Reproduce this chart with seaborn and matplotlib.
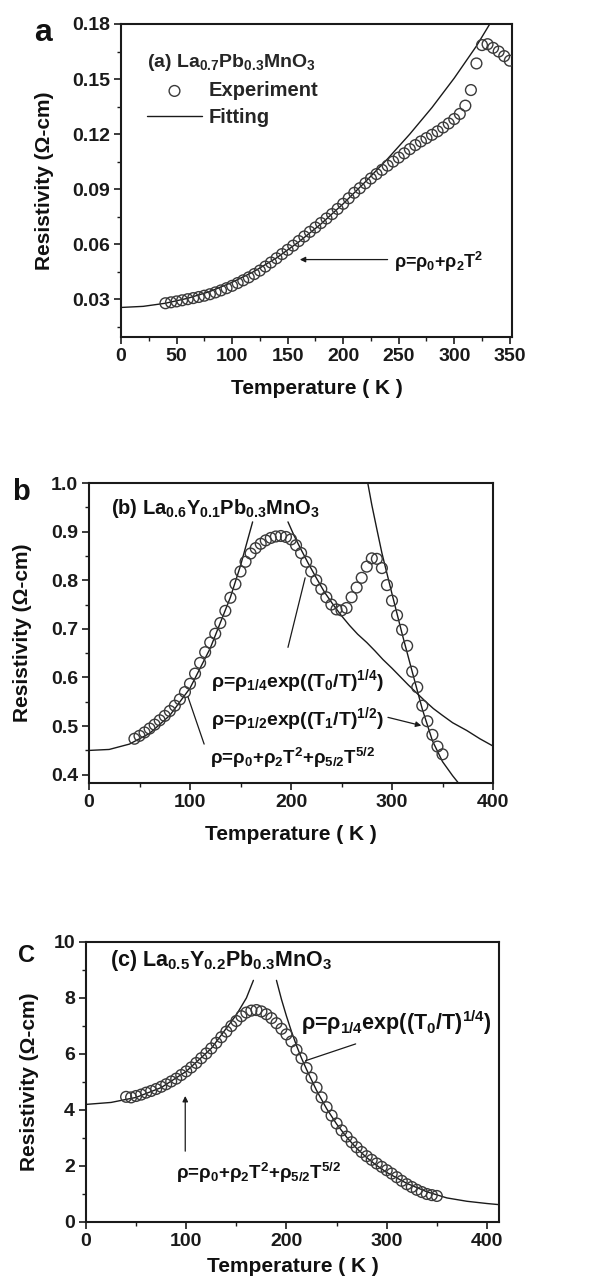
import matplotlib
matplotlib.use("Agg")
import matplotlib.pyplot as plt
import seaborn as sns

# ==============================================================================
# Resistivity vs temperature, three samples (a, b, c)
# ==============================================================================

# --- panel a: La0.7Pb0.3MnO3 ---
temp_a = [40, 45, 50, 55, 60, 65, 70, 75, 80, 85, 90, 95, 100, 105, 110, 115,
          120, 125, 130, 135, 140, 145, 150, 155, 160, 165, 170, 175, 180, 185,
          190, 195, 200, 205, 210, 215, 220, 225, 230, 235, 240, 245, 250, 255,
          260, 265, 270, 275, 280, 285, 290, 295, 300, 305, 310, 315, 320, 325,
          330, 335, 340, 345, 350]
rho_a = [0.0278, 0.0283, 0.0288, 0.0294, 0.0300, 0.0306, 0.0312, 0.0319,
         0.0327, 0.0337, 0.0348, 0.0360, 0.0373, 0.0388, 0.0403, 0.0419,
         0.0437, 0.0456, 0.0478, 0.0500, 0.0523, 0.0546, 0.0569, 0.0592,
         0.0617, 0.0642, 0.0667, 0.0691, 0.0715, 0.0740, 0.0764, 0.0792,
         0.0820, 0.0850, 0.0880, 0.0905, 0.0932, 0.0958, 0.0982, 0.1005,
         0.1028, 0.1050, 0.1072, 0.1095, 0.1118, 0.1140, 0.1160, 0.1178,
         0.1196, 0.1215, 0.1236, 0.1258, 0.1282, 0.1310, 0.1355, 0.1440,
         0.1585, 0.1685, 0.1690, 0.1670, 0.1650, 0.1625, 0.1600]
fit_temp_a = [0, 20, 40, 60, 80, 100, 120, 140, 160, 180, 200, 220, 240, 260,
              280, 300, 320, 332]
fit_rho_a = [0.0255, 0.0261, 0.0278, 0.0305, 0.0342, 0.0392, 0.0452, 0.0525,
             0.0612, 0.0710, 0.0820, 0.0940, 0.1065, 0.1200, 0.1345, 0.1505,
             0.1680, 0.1800]

# --- panel b: La0.6Y0.1Pb0.3MnO3 ---
temp_b = [45, 50, 55, 60, 65, 70, 75, 80, 85, 90, 95, 100, 105, 110, 115, 120,
          125, 130, 135, 140, 145, 150, 155, 160, 165, 170, 175, 180, 185, 190,
          195, 200, 205, 210, 215, 220, 225, 230, 235, 240, 245, 250, 255, 260,
          265, 270, 275, 280, 285, 290, 295, 300, 305, 310, 315, 320, 325, 330,
          335, 340, 345, 350]
rho_b = [0.474, 0.480, 0.487, 0.495, 0.503, 0.512, 0.521, 0.531, 0.542, 0.555,
         0.570, 0.587, 0.608, 0.630, 0.652, 0.672, 0.690, 0.712, 0.737, 0.764,
         0.792, 0.818, 0.838, 0.855, 0.866, 0.875, 0.882, 0.887, 0.890, 0.891,
         0.889, 0.884, 0.872, 0.856, 0.838, 0.818, 0.800, 0.782, 0.765, 0.750,
         0.740, 0.738, 0.743, 0.765, 0.785, 0.805, 0.828, 0.845, 0.844, 0.825,
         0.790, 0.758, 0.728, 0.698, 0.665, 0.612, 0.580, 0.542, 0.510, 0.482,
         0.458, 0.442]
fit_low_temp_b = [0, 20, 40, 60, 80, 100, 120, 140, 150, 162]
fit_low_rho_b = [0.450, 0.452, 0.463, 0.485, 0.522, 0.578, 0.660, 0.765,
                 0.830, 0.920]
fit_q_temp_b = [197, 203, 209, 217, 225, 233, 242, 250, 258, 266, 275, 283,
                291, 300, 308, 316, 325, 333, 341, 350, 360, 374, 387, 400]
fit_q_rho_b = [0.920, 0.892, 0.867, 0.835, 0.805, 0.776, 0.749, 0.727, 0.707,
               0.689, 0.672, 0.655, 0.637, 0.619, 0.602, 0.585, 0.567, 0.551,
               0.536, 0.522, 0.507, 0.491, 0.474, 0.459]
fit_h_temp_b = [276, 280, 285, 290, 300, 310, 320, 330, 340, 350, 360, 370]
fit_h_rho_b = [1.000, 0.955, 0.905, 0.856, 0.772, 0.690, 0.612, 0.535, 0.470,
               0.427, 0.398, 0.372]

# --- panel c: La0.5Y0.2Pb0.3MnO3 ---
temp_c = [40, 45, 50, 55, 60, 65, 70, 75, 80, 85, 90, 95, 100, 105, 110, 115,
          120, 125, 130, 135, 140, 145, 150, 155, 160, 165, 170, 175, 180, 185,
          190, 195, 200, 205, 210, 215, 220, 225, 230, 235, 240, 245, 250, 255,
          260, 265, 270, 275, 280, 285, 290, 295, 300, 305, 310, 315, 320, 325,
          330, 335, 340, 345, 350]
rho_c = [4.47, 4.45, 4.50, 4.55, 4.62, 4.68, 4.75, 4.83, 4.92, 5.02, 5.12,
         5.25, 5.38, 5.52, 5.68, 5.85, 6.02, 6.20, 6.40, 6.60, 6.80, 7.00,
         7.18, 7.35, 7.48, 7.55, 7.57, 7.52, 7.42, 7.28, 7.10, 6.90, 6.70,
         6.45, 6.15, 5.85, 5.50, 5.15, 4.80, 4.45, 4.10, 3.80, 3.52, 3.27,
         3.05, 2.85, 2.67, 2.50, 2.35, 2.22, 2.09, 1.97, 1.85, 1.73, 1.60,
         1.47, 1.35, 1.25, 1.15, 1.07, 1.00, 0.96, 0.93]
fit_low_temp_c = [0, 25, 50, 75, 100, 125, 150, 160, 167]
fit_low_rho_c = [4.20, 4.27, 4.45, 4.80, 5.38, 6.20, 7.40, 8.00, 8.63]
fit_q_temp_c = [190, 195, 200, 205, 210, 215, 220, 230, 240, 250, 260, 270,
                280, 290, 300, 320, 340, 360, 380, 400, 412]
fit_q_rho_c = [8.63, 7.95, 7.35, 6.80, 6.30, 5.85, 5.45, 4.70, 4.05, 3.50,
               3.03, 2.63, 2.30, 2.02, 1.77, 1.38, 1.08, 0.86, 0.74, 0.66, 0.62]

# ==============================================================================
# Style
# ==============================================================================
sns.set_style("ticks")
plt.rcParams['font.family'] = ['Liberation Sans', 'DejaVu Sans']
plt.rcParams['font.weight'] = 'bold'
plt.rcParams['axes.labelweight'] = 'bold'
plt.rcParams['mathtext.fontset'] = 'custom'
plt.rcParams['mathtext.rm'] = 'Liberation Sans:bold'
plt.rcParams['mathtext.it'] = 'Liberation Sans:bold'
plt.rcParams['mathtext.bf'] = 'Liberation Sans:bold'
plt.rcParams['mathtext.default'] = 'rm'

INK = '#1a1a1a'
MARK = '#3a3a3a'
TXT = '#111111'


def style_axes(ax, xlim, ylim, xmaj, xmin, ymaj, ymin, yfmt):
    ax.set_xlim(*xlim)
    ax.set_ylim(*ylim)
    ax.xaxis.set_major_locator(plt.MultipleLocator(xmaj))
    ax.xaxis.set_minor_locator(plt.MultipleLocator(xmin))
    ax.yaxis.set_major_locator(plt.MultipleLocator(ymaj))
    ax.yaxis.set_minor_locator(plt.MultipleLocator(ymin))
    ax.yaxis.set_major_formatter(plt.FormatStrFormatter(yfmt))
    ax.tick_params(which='major', direction='out', length=5, width=1.2,
                   labelsize=14, colors=INK, pad=3)
    ax.tick_params(which='minor', direction='out', length=3, width=1.0,
                   colors=INK)
    for s in ax.spines.values():
        s.set_visible(True)
        s.set_linewidth(1.5)
        s.set_color(INK)
    ax.set_xlabel('Temperature ( K )', fontsize=15, color=TXT)
    ax.set_ylabel('Resistivity (Ω-cm)', fontsize=15, color=TXT)


def draw_points(ax, t, r, label=None):
    sns.scatterplot(x=t, y=r, ax=ax, marker='o', s=60, facecolor='none',
                    edgecolor=MARK, linewidth=1.0, label=label, zorder=3)


def draw_fit(ax, t, r, label=None):
    sns.lineplot(x=t, y=r, ax=ax, color=INK, linewidth=1.0, label=label,
                 zorder=2)


def pointer(ax, tip, tail, head=True):
    style = '-|>' if head else '-'
    ax.annotate('', xy=tip, xytext=tail,
                arrowprops=dict(arrowstyle=style, color=INK, lw=0.9,
                                mutation_scale=8, shrinkA=0, shrinkB=0))


fig = plt.figure(figsize=(5.89, 12.78), dpi=100)

# ------------------------------------------------------------------ panel a
ax_a = fig.add_axes([121 / 589, 1 - 337 / 1278, 391 / 589, 313 / 1278])
draw_points(ax_a, temp_a, rho_a, label='Experiment')
draw_fit(ax_a, fit_temp_a, fit_rho_a, label='Fitting')
style_axes(ax_a, (0, 352), (0.0094, 0.18), 50, 25, 0.03, 0.015, '%.2f')
ax_a.legend(loc='upper left', bbox_to_anchor=(0.066, 0.91), frameon=False,
            title='(a) La$_{0.7}$Pb$_{0.3}$MnO$_3$', alignment='left',
            fontsize=14.5, title_fontsize=14, handlelength=2.75,
            handletextpad=0.3, labelspacing=0.4, borderpad=0,
            borderaxespad=0)
pointer(ax_a, (161, 0.0516), (240, 0.0516))
ax_a.text(246, 0.0504, 'ρ=ρ$_0$+ρ$_2$T$^2$', fontsize=13, color=TXT,
          va='center', ha='left')
ax_a.yaxis.set_label_coords(-0.171, 0.5)
ax_a.xaxis.set_label_coords(0.5, -0.134)
fig.text(0.058, 0.974, 'a', fontsize=23, fontweight='bold', color=TXT,
         va='center', ha='left')

# ------------------------------------------------------------------ panel b
ax_b = fig.add_axes([89 / 589, 1 - 783 / 1278, 404 / 589, 300 / 1278])
draw_points(ax_b, temp_b, rho_b)
draw_fit(ax_b, fit_low_temp_b, fit_low_rho_b)
draw_fit(ax_b, fit_q_temp_b, fit_q_rho_b)
draw_fit(ax_b, fit_h_temp_b, fit_h_rho_b)
style_axes(ax_b, (0, 400), (0.383, 1.0), 100, 50, 0.1, 0.05, '%.1f')
ax_b.text(22, 0.948, '(b) La$_{0.6}$Y$_{0.1}$Pb$_{0.3}$MnO$_3$', fontsize=14.5,
          color=TXT, va='center', ha='left')
ax_b.text(121, 0.592, 'ρ=ρ$_{1/4}$exp((T$_0$/T)$^{1/4}$)', fontsize=14,
          color=TXT, va='center', ha='left')
ax_b.text(121, 0.515, 'ρ=ρ$_{1/2}$exp((T$_1$/T)$^{1/2}$)', fontsize=14,
          color=TXT, va='center', ha='left')
ax_b.text(120, 0.435, 'ρ=ρ$_0$+ρ$_2$T$^2$+ρ$_{5/2}$T$^{5/2}$', fontsize=13.5,
          color=TXT, va='center', ha='left')
pointer(ax_b, (214, 0.805), (197, 0.662), head=False)
pointer(ax_b, (329, 0.501), (296, 0.518))
pointer(ax_b, (98, 0.560), (114, 0.463), head=False)
ax_b.yaxis.set_label_coords(-0.141, 0.5)
ax_b.xaxis.set_label_coords(0.5, -0.14)
fig.text(0.02, 0.615, 'b', fontsize=21, fontweight='bold', color=TXT,
         va='center', ha='left')

# ------------------------------------------------------------------ panel c
ax_c = fig.add_axes([86 / 589, 1 - 1222 / 1278, 413 / 589, 280 / 1278])
draw_points(ax_c, temp_c, rho_c)
draw_fit(ax_c, fit_low_temp_c, fit_low_rho_c)
draw_fit(ax_c, fit_q_temp_c, fit_q_rho_c)
style_axes(ax_c, (0, 412), (0, 10), 100, 50, 2, 1, '%d')
ax_c.text(24, 9.34, '(c) La$_{0.5}$Y$_{0.2}$Pb$_{0.3}$MnO$_3$', fontsize=15.5,
          color=TXT, va='center', ha='left')
ax_c.text(214, 7.13, 'ρ=ρ$_{1/4}$exp((T$_0$/T)$^{1/4}$)', fontsize=15.5,
          color=TXT, va='center', ha='left')
ax_c.text(90, 1.76, 'ρ=ρ$_0$+ρ$_2$T$^2$+ρ$_{5/2}$T$^{5/2}$', fontsize=13.5,
          color=TXT, va='center', ha='left')
pointer(ax_c, (219, 5.76), (269, 6.36), head=False)
pointer(ax_c, (99, 4.5), (99, 2.53))
ax_c.yaxis.set_label_coords(-0.114, 0.5)
ax_c.xaxis.set_label_coords(0.5, -0.125)
fig.text(0.031, 0.252, 'C', fontsize=17, fontweight='bold', color=TXT,
         va='center', ha='left')

plt.savefig('out.png', dpi=100)
